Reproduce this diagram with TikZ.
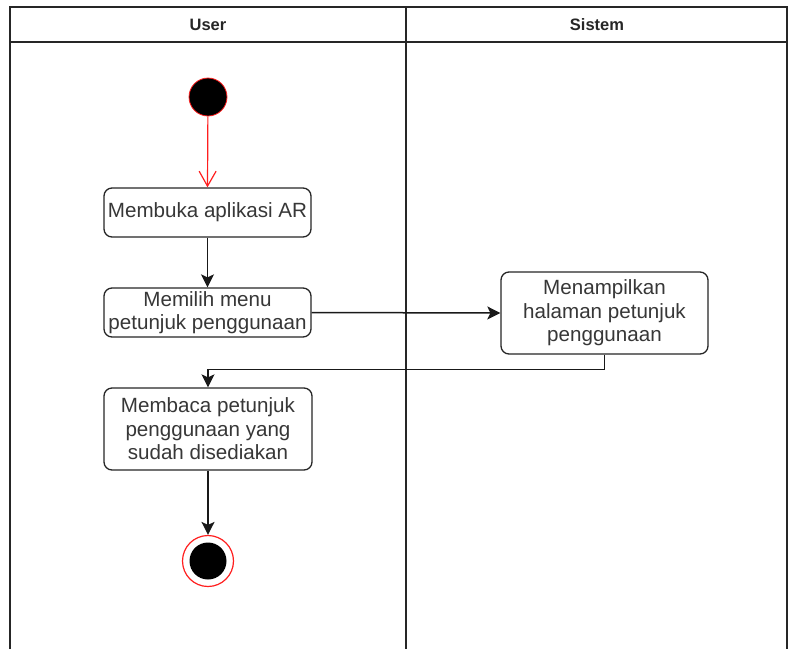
\documentclass[tikz,border=0pt]{standalone}
\usepackage{fontspec}
\setmainfont{Liberation Sans}
\usetikzlibrary{arrows.meta}
\definecolor{txt}{RGB}{55,55,55}
\definecolor{ured}{RGB}{255,30,30}
\tikzset{
  act/.style={draw=black!85, line width=1.3pt, rounded corners=8pt, fill=white,
    text=txt, align=center, inner sep=0pt, minimum width=207pt,
    font=\fontsize{20.6}{23.5}\selectfont},
  flow/.style={draw=black!90, line width=1.5pt, -{Stealth[length=13pt,width=13pt,inset=3pt]}},
  lane/.style={draw=black!85, line width=1.4pt},
  head/.style={font=\bfseries\fontsize{16.5}{18}\selectfont, text=black!85}
}
\begin{document}
\begin{tikzpicture}[x=1pt,y=-1pt]
\useasboundingbox (0,0) rectangle (790,649);
% swimlanes
\draw[lane] (10,649) -- (10,7) -- (787,7) -- (787,649);
\draw[lane] (10,42) -- (787,42);
\draw[lane] (406,7) -- (406,649);
\node[head] (hu) at (208,25) {User};
\node[head] (hs) at (597,25) {Sistem};
% nodes
\node[circle, fill=black, draw=ured, line width=0.8pt, minimum size=38pt, inner sep=0pt] (start) at (208,97) {};
\node[act, minimum height=49pt] (b1) at (207.5,212.5) {Membuka aplikasi AR};
\node[act, minimum height=49pt] (b2) at (207.5,312.5) {Memilih menu\\petunjuk penggunaan};
\node[act, minimum height=82pt] (b3) at (604.5,313) {Menampilkan\\halaman petunjuk\\penggunaan};
\node[act, minimum height=82pt, minimum width=208pt] (b4) at (208,429) {Membaca petunjuk\\penggunaan yang\\sudah disediakan};
\node[circle, draw=ured, line width=1.2pt, fill=white, minimum size=51pt, inner sep=0pt] (end) at (208,561) {};
\node[circle, fill=black, minimum size=37pt, inner sep=0pt] (endin) at (208,561) {};
% connectors
\draw[draw=ured, line width=1.2pt, -{Straight Barb[length=15pt,width=17pt,line width=1.2pt]}] (start) -- (b1.north);
\draw[flow] (b1) -- (b2);
\draw[flow] (b2.east) -- (b3.west);
\draw[flow] (b3.south) -- ++(0,15) -| (b4.north);
\draw[flow] (b4) -- (end);
\end{tikzpicture}
\end{document}
